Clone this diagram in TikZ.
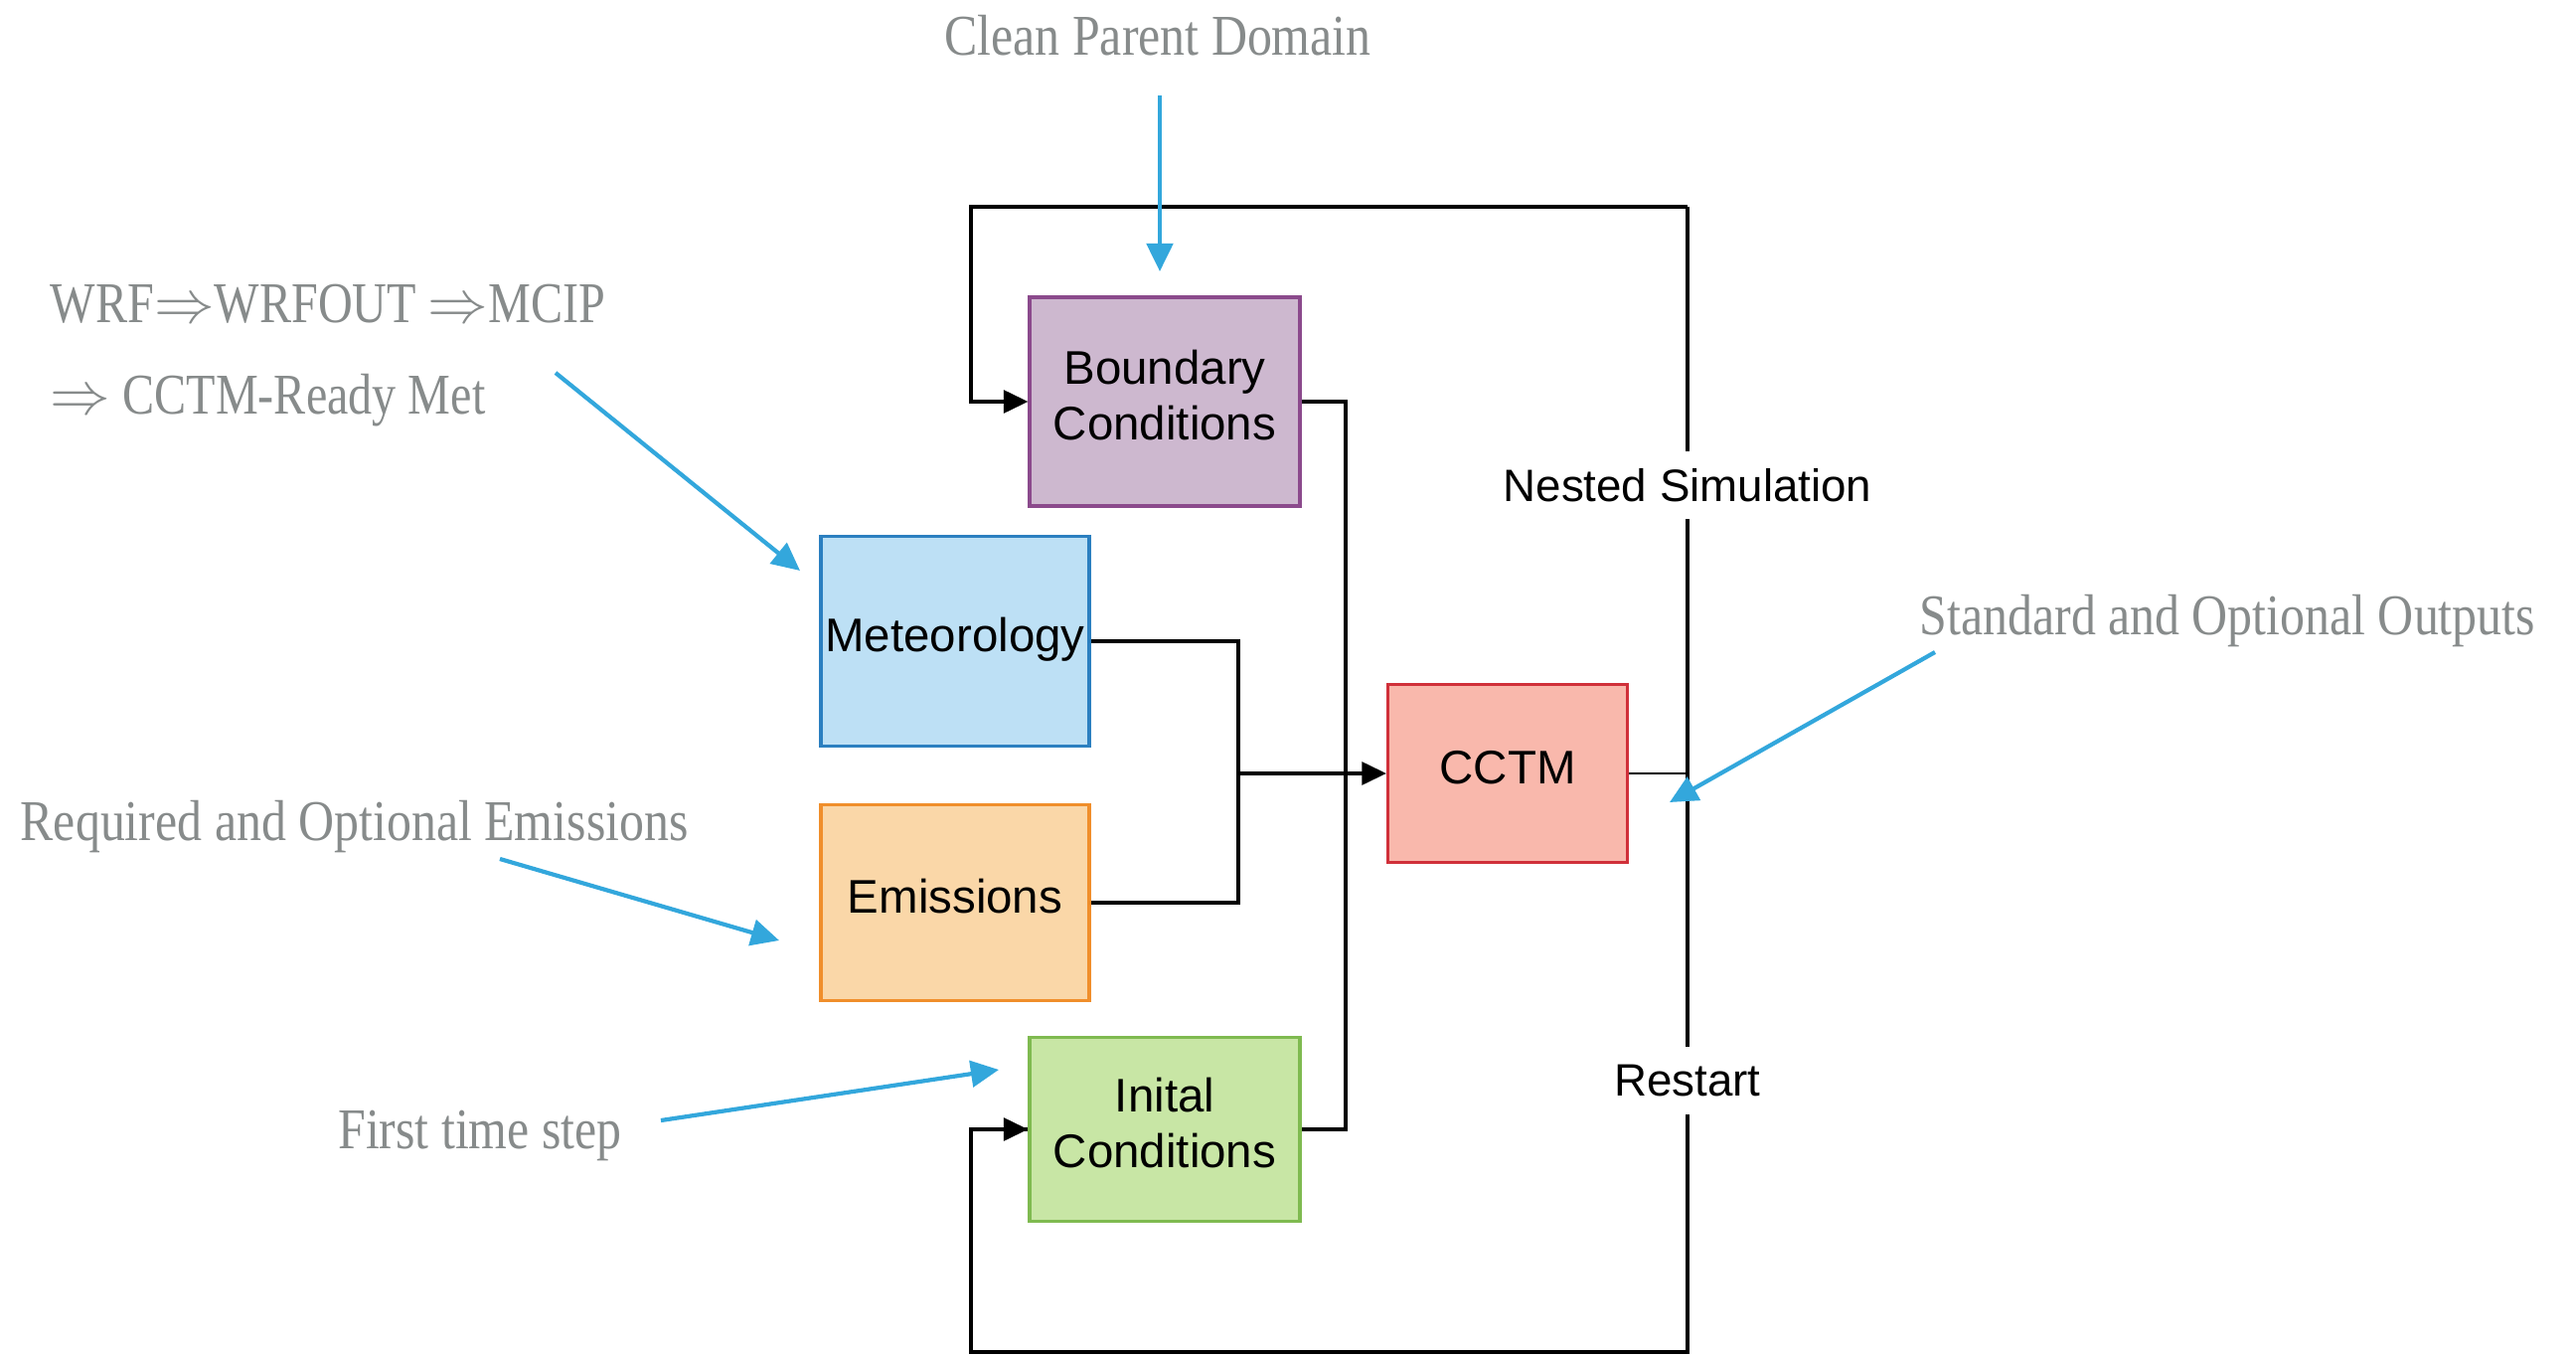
\documentclass[tikz,border=0pt]{standalone}
\usepackage{fontspec}
\setmainfont{Liberation Serif}
\setsansfont{Liberation Sans}
\newfontfamily\notefont[FakeStretch=0.86]{Liberation Serif}
\newfontfamily\chainfont[FakeStretch=0.83]{Liberation Serif}
\usepackage{tikz}
\usetikzlibrary{arrows.meta}
\usetikzlibrary{positioning}

\definecolor{notegray}{RGB}{135,139,139}
\definecolor{noteblue}{RGB}{51,167,220}
\definecolor{bcfill}{RGB}{205,184,207}
\definecolor{bcdraw}{RGB}{139,74,140}
\definecolor{metfill}{RGB}{189,224,245}
\definecolor{metdraw}{RGB}{43,127,192}
\definecolor{emfill}{RGB}{250,215,168}
\definecolor{emdraw}{RGB}{240,142,43}
\definecolor{ccfill}{RGB}{249,184,172}
\definecolor{ccdraw}{RGB}{208,48,58}
\definecolor{icfill}{RGB}{200,230,165}
\definecolor{icdraw}{RGB}{127,186,80}

\tikzset{
  box/.style={draw, line width=0.9pt, align=center, inner sep=0pt,
    font=\sffamily\fontsize{13.5}{16}\selectfont},
  link/.style={line width=1pt, black},
  feed/.style={link, -{Triangle[length=7pt,width=6.5pt]}},
  note/.style={text=notegray, inner sep=0pt, font=\notefont\fontsize{16.5}{20}\selectfont},
  chain/.style={note, font=\chainfont\fontsize{16.5}{20}\selectfont},
  hint/.style={noteblue, line width=1.2pt, -{Triangle[length=8pt,width=7.5pt]}},
  tag/.style={fill=white, inner xsep=1pt, inner ysep=5pt, font=\sffamily\fontsize{13}{16}\selectfont}
}

\begin{document}
\begin{tikzpicture}
        \useasboundingbox (0,0) rectangle (25.92,13.64);

        \node[box, fill=bcfill, draw=bcdraw, minimum width=2.72cm, minimum height=2.10cm] (bc) at (11.72,9.60) {Boundary\\Conditions\\[-12pt]};
        \node[box, fill=metfill, draw=metdraw, minimum width=2.70cm, minimum height=2.11cm, text depth=4pt] (met) at (9.61,7.19) {Meteorology};
        \node[box, fill=emfill, draw=emdraw, minimum width=2.70cm, minimum height=1.97cm, text depth=4pt] (em) at (9.61,4.56) {Emissions};
        \node[box, fill=ccfill, draw=ccdraw, minimum width=2.41cm, minimum height=1.79cm, text depth=3.5pt] (cctm) at (15.17,5.86) {CCTM};
        \node[box, fill=icfill, draw=icdraw, minimum width=2.72cm, minimum height=1.85cm] (ic) at (11.72,2.28) {Inital\\Conditions\\[-12pt]};

        \coordinate (merge) at (12.46,5.86);
        \coordinate (bus) at (13.54,5.86);
        \coordinate (topleft) at (9.77,11.56);
        \coordinate (topright) at (16.98,11.56);
        \coordinate (botright) at (16.98,0.04);
        \coordinate (botleft) at (9.77,0.04);

        \draw[link] (met.east) -| (merge) |- (em.east);
        \draw[feed] (merge) -- (cctm.west);
        \draw[link] (bc.east) -| (bus) |- (ic.east);
        \draw[link, line width=0.5pt] (cctm.east) -- (cctm.east -| topright);
        \draw[link] (topright) -- (botright) -- (botleft) |- (ic.west);
        \draw[feed] (topright) -- (topleft) |- (bc.west);
        \draw[feed] (botleft) |- (ic.west);

        \node[tag] (nested) at (16.98,8.76) {Nested Simulation};
        \node[tag] (restart) at (16.98,2.77) {Restart};

        \node[note] (parent) at (11.65,13.28) {Clean Parent Domain};
        \node[chain, anchor=base west] (wrf) at (0.50,10.40) {WRF$\Rightarrow$WRFOUT $\Rightarrow$MCIP};
        \node[chain, anchor=base west] (ready) at (0.50,9.48) {$\Rightarrow$ CCTM-Ready Met};
        \node[note, anchor=base west] (emis) at (0.20,5.19) {Required and Optional Emissions};
        \node[note] (first) at (4.83,2.22) {First time step};
        \node[note, anchor=base west] (outs) at (19.31,7.26) {Standard and Optional Outputs};

        \coordinate (p1) at (11.67,12.68);
        \coordinate (p2) at (5.59,9.89);
        \coordinate (p3) at (5.03,5.00);
        \coordinate (p4) at (6.65,2.37);
        \coordinate (p5) at (19.47,7.08);

        \draw[hint] (p1) -- (11.67,10.91);
        \draw[hint] (p2) -- (8.05,7.90);
        \draw[hint] (p3) -- (7.84,4.18);
        \draw[hint] (p4) -- (10.05,2.88);
        \draw[hint] (p5) -- (16.80,5.57);
      \end{tikzpicture}
\end{document}
